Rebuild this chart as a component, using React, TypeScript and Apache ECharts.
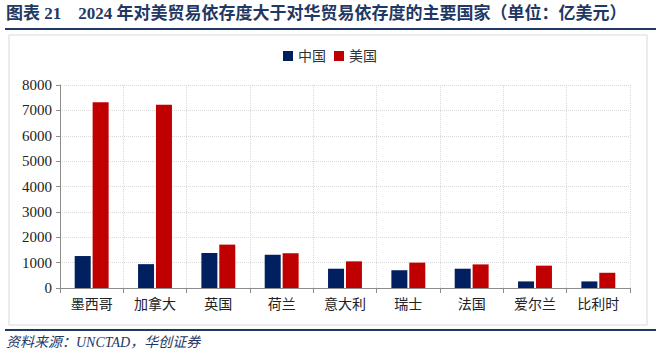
import React, { useEffect, useRef } from "react";
import * as echarts from "echarts";

const categories = ["墨西哥", "加拿大", "英国", "荷兰", "意大利", "瑞士", "法国", "爱尔兰", "比利时"];
const chinaValues = [1260, 940, 1380, 1310, 760, 700, 760, 260, 260];
const usValues = [7320, 7220, 1710, 1370, 1050, 1000, 930, 880, 600];
const seriesNames = ["中国", "美国"];

const SERIF = "'Liberation Serif', 'Noto Sans CJK SC', serif";

export default function App() {
  const ref = useRef<HTMLDivElement>(null);
  useEffect(() => {
    if (!ref.current) return;
    const chart = echarts.init(ref.current, undefined, { renderer: "svg" });
    chart.setOption({
      animation: false,
      backgroundColor: "#ffffff",
      textStyle: { fontFamily: SERIF },
      graphic: [
        {
          type: "text",
          left: 6,
          top: 5,
          style: {
            text: "图表 21    2024 年对美贸易依存度大于对华贸易依存度的主要国家（单位：亿美元）",
            fill: "#1F3864",
            font: "bold 17px " + SERIF,
          },
        },
        { type: "rect", shape: { x: 5, y: 28, width: 651, height: 2 }, style: { fill: "#1F3864" } },
        { type: "rect", shape: { x: 9, y: 35, width: 638, height: 290 }, style: { fill: "none", stroke: "#d9d9d9", lineWidth: 1 } },
        { type: "rect", shape: { x: 5, y: 329, width: 651, height: 2 }, style: { fill: "#1F3864" } },
        {
          type: "text",
          left: 6,
          top: 335,
          style: {
            text: "资料来源：UNCTAD，华创证券",
            fill: "#1F3864",
            font: "italic 14px " + SERIF,
          },
        },
      ],
      legend: {
        data: seriesNames,
        top: 44,
        left: "center",
        itemWidth: 10,
        itemHeight: 10,
        itemGap: 8,
        icon: "rect",
        textStyle: { fontSize: 14, color: "#333", fontFamily: SERIF },
      },
      grid: { left: 60, right: 30, top: 85, bottom: 69, containLabel: false },
      xAxis: {
        type: "category",
        data: categories,
        axisLine: { lineStyle: { color: "#8c8c8c" } },
        axisTick: { show: true, lineStyle: { color: "#8c8c8c" } },
        axisLabel: { fontSize: 14, color: "#222", margin: 9, fontFamily: SERIF },
        splitLine: { show: true, lineStyle: { color: "#d9d9d9", type: "dotted" } },
      },
      yAxis: {
        type: "value",
        min: 0,
        max: 8000,
        interval: 1000,
        axisLine: { show: true, lineStyle: { color: "#8c8c8c" } },
        axisTick: { show: true, length: 4, lineStyle: { color: "#8c8c8c" } },
        axisLabel: { fontSize: 15, color: "#222", margin: 8, fontFamily: SERIF, formatter: (v: number) => String(v) },
        splitLine: { show: true, lineStyle: { color: "#d9d9d9", type: "dotted" } },
      },
      series: [
        {
          name: seriesNames[0],
          type: "bar",
          data: chinaValues,
          barWidth: 16,
          barGap: "12%",
          itemStyle: { color: "#002060" },
        },
        {
          name: seriesNames[1],
          type: "bar",
          data: usValues,
          barWidth: 16,
          barGap: "12%",
          itemStyle: { color: "#C00000" },
        },
      ],
    });
    return () => chart.dispose();
  }, []);
  return <div ref={ref} style={{ width: 660, height: 357, position: "absolute", left: 0, top: 0 }} />;
}
